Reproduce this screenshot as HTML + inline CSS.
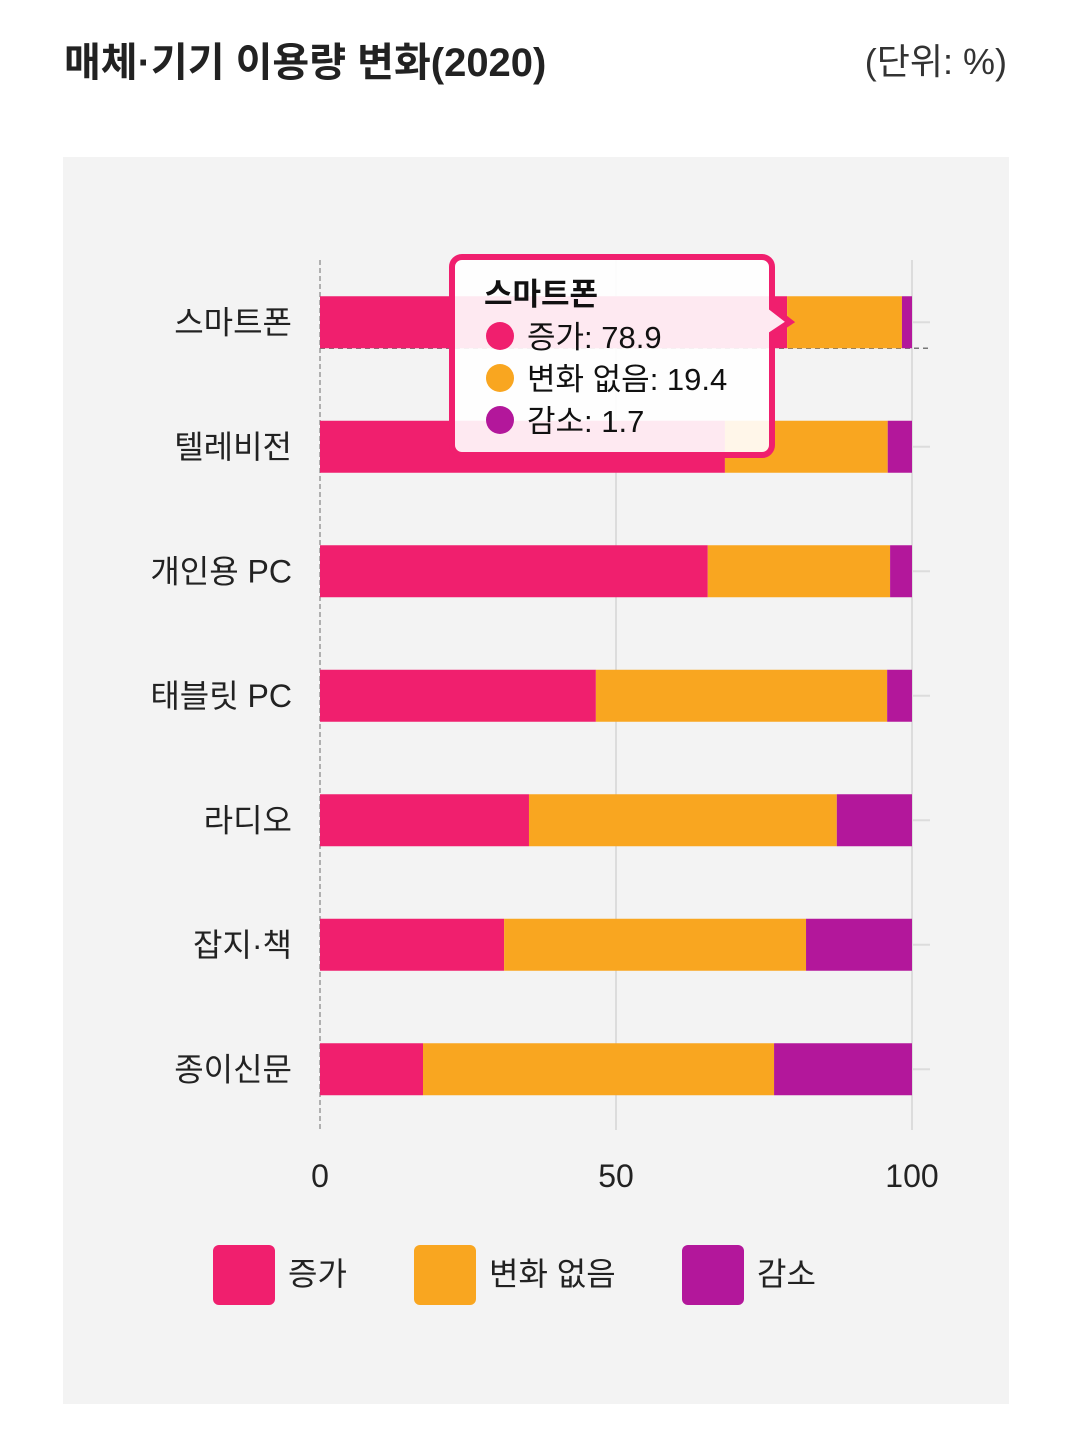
<!DOCTYPE html>
<html><head><meta charset="utf-8">
<style>
body{margin:0;width:1070px;height:1440px;background:#fff;overflow:hidden;font-family:"Liberation Sans","Noto Sans CJK KR",sans-serif;}
svg text{font-family:"Liberation Sans","Noto Sans CJK KR",sans-serif;}
</style></head><body>
<svg id="c" width="1070" height="1440">
<text x="64" y="76" font-size="40" font-weight="bold" fill="#222">매체·기기 이용량 변화(2020)</text>
<text x="1007" y="74" font-size="36" fill="#333" text-anchor="end">(단위: %)</text>
<rect x="63" y="157" width="946" height="1247" fill="#f3f3f3"/>
<g id="grid"></g><g id="bars"></g><g id="labels"></g><g id="tip"></g><g id="legend"></g>
</svg>
<script>
const categories=["스마트폰","텔레비전","개인용 PC","태블릿 PC","라디오","잡지·책","종이신문"];
const increase=[78.9,68.4,65.5,46.6,35.3,31.1,17.4];
const nochange=[19.4,27.5,30.8,49.2,52.0,51.0,59.3];
const decrease=[1.7,4.1,3.7,4.2,12.7,17.9,23.3];
const ticks=[0,50,100];
const seriesNames=["증가","변화 없음","감소"];
const colors=["#f01f6e","#f9a620","#b3179b"];
const NS="http://www.w3.org/2000/svg";
const X0=320,X1=912,Y0=260,STEP=124.5,BH=52;
const x=v=>X0+(X1-X0)*v/100;
const yc=i=>Y0+STEP*(i+0.5);
function mk(tag,attrs,parent,text){const e=document.createElementNS(NS,tag);for(const k in attrs)e.setAttribute(k,attrs[k]);if(text!==undefined)e.textContent=text;document.getElementById(parent).appendChild(e);return e;}
ticks.forEach((t,i)=>{
 const g=mk('line',{x1:x(t),x2:x(t),y1:Y0,y2:1130,stroke:t===0?'#999':'#dcdcdc','stroke-width':t===0?1.5:2,'stroke-dasharray':t===0?'5,3':''},'grid');
 
 
 const l=mk('text',{x:x(t),y:1187,'font-size':32,'text-anchor':'middle',fill:'#222'},'labels',String(t));
 
 
});
categories.forEach((c,i)=>{
 const tk=mk('line',{x1:X1,x2:930,y1:yc(i),y2:yc(i),stroke:'#dcdcdc','stroke-width':2},'grid');
 
 
 const vals=[increase[i],nochange[i],decrease[i]];let acc=0;
 vals.forEach((v,s)=>{
  const r=mk('rect',{x:x(acc),y:yc(i)-BH/2,width:x(acc+v)-x(acc),height:BH,fill:colors[s]},'bars');
  
  
  acc+=v;
 });
 const l=mk('text',{x:292,y:yc(i)+11,'font-size':32,'text-anchor':'end',fill:'#222'},'labels',c);
 
 
});
const cross=mk('line',{x1:X0,x2:932,y1:yc(0)+BH/2,y2:yc(0)+BH/2,stroke:'#777','stroke-width':1.5,'stroke-dasharray':'5,4'},'grid');


// tooltip
const tp=mk('path',{d:'M462,257 H762 a10,10 0 0 1 10,10 V308 L790,322 L772,334 V445 a10,10 0 0 1 -10,10 H462 a10,10 0 0 1 -10,-10 V267 a10,10 0 0 1 10,-10 Z',fill:'rgba(255,255,255,0.9)',stroke:'#f01f6e','stroke-width':6},'tip');


const tt=mk('text',{x:484,y:305,'font-size':31,'font-weight':'bold',fill:'#111'},'tip',categories[0]);


[increase[0],nochange[0],decrease[0]].forEach((v,s)=>{
 const cy=336+s*42;
 const d=mk('circle',{cx:500,cy:cy,r:14,fill:colors[s]},'tip');
 
 
 const t=mk('text',{x:527,y:cy+12,'font-size':31,fill:'#111'},'tip',seriesNames[s]+': '+v);
 
 
});
const lx=[213,414,682];
seriesNames.forEach((n,s)=>{
 const r=mk('rect',{x:lx[s],y:1245,width:62,height:60,rx:6,fill:colors[s]},'legend');
 
 
 const t=mk('text',{x:lx[s]+75,y:1285,'font-size':32,fill:'#222'},'legend',n);
 
 
});
</script>
</body></html>
